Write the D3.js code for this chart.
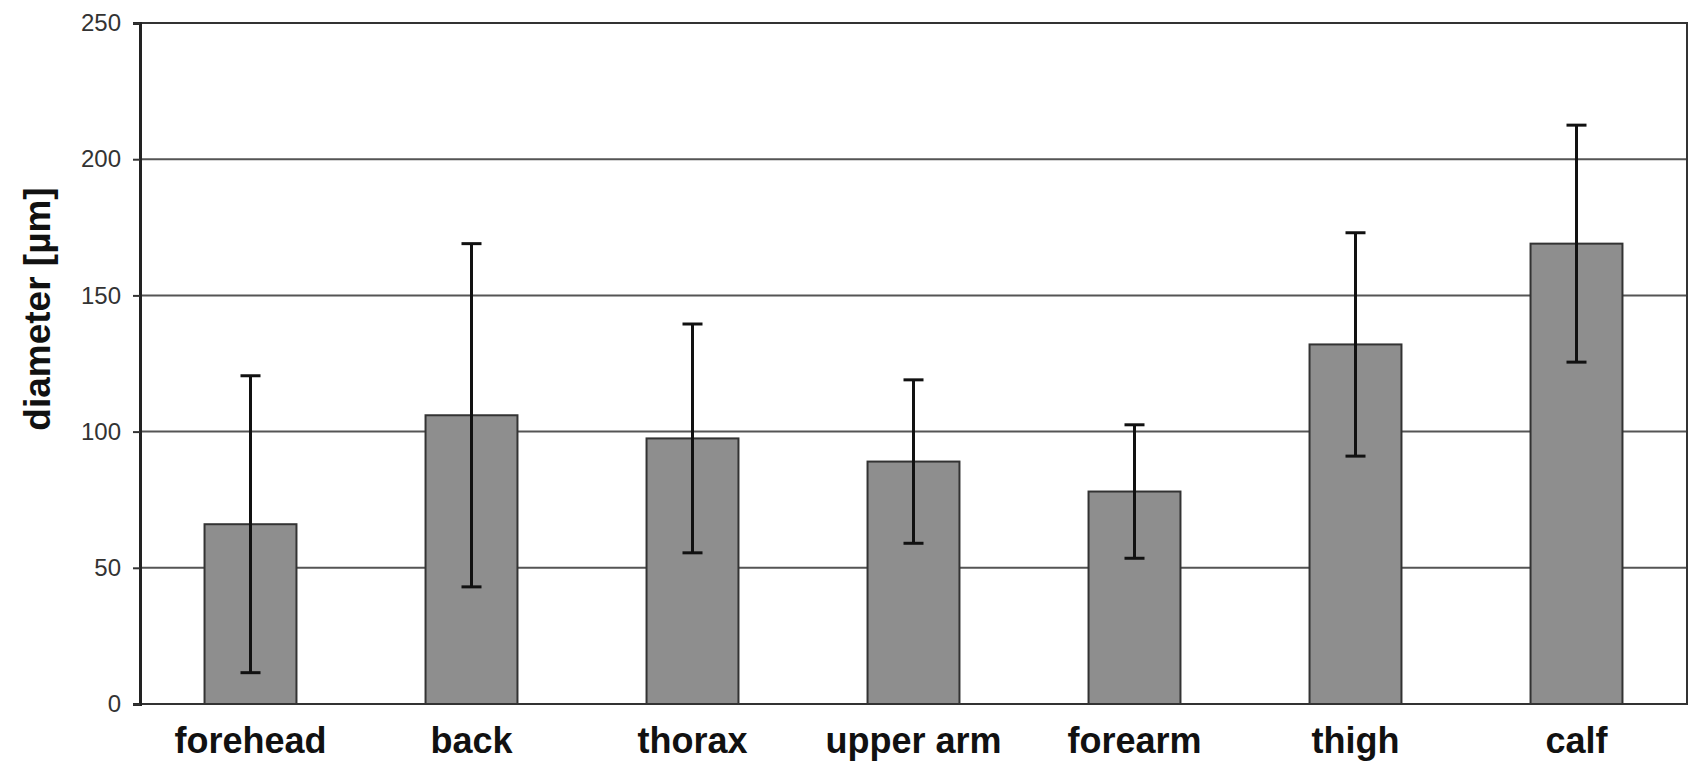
<!DOCTYPE html>
<html>
<head>
<meta charset="utf-8">
<script src="https://cdn.jsdelivr.net/npm/d3@7"></script>
<style>
  html, body { margin: 0; padding: 0; background: #fff; }
  svg { display: block; }
</style>
</head>
<body>
<svg id="chart" width="1692" height="767"></svg>
<script>
const categories = ["forehead", "back", "thorax", "upper arm", "forearm", "thigh", "calf"];
const means = [66, 106, 97.5, 89, 78, 132, 169];
const sds = [54.5, 63, 42, 30, 24.5, 41, 43.5];
const yTicks = [0, 50, 100, 150, 200, 250];
const yLabel = "diameter [µm]";

const svg = d3.select("#chart");
const margin = { left: 140, right: 5, top: 23, bottom: 63 };
const W = 1692, H = 767;
const innerW = W - margin.left - margin.right;
const innerH = H - margin.top - margin.bottom;

const g = svg.append("g").attr("transform", `translate(${margin.left},${margin.top})`);

const x = d3.scaleBand().domain(categories).range([0, innerW]).paddingInner(0.584).paddingOuter(0.292);
const y = d3.scaleLinear().domain([0, 250]).range([innerH, 0]);

// gridlines
g.append("g").selectAll("line").data(yTicks.filter(t => t > 0 && t < 250)).join("line")
  .attr("x1", 0).attr("x2", innerW)
  .attr("y1", d => y(d)).attr("y2", d => y(d))
  .attr("stroke", "#555").attr("stroke-width", 2);

// bars
g.append("g").selectAll("rect").data(categories).join("rect")
  .attr("x", d => x(d))
  .attr("width", x.bandwidth())
  .attr("y", (d, i) => y(means[i]))
  .attr("height", (d, i) => y(0) - y(means[i]))
  .attr("fill", "#8e8e8e")
  .attr("stroke", "#333")
  .attr("stroke-width", 2);

// error bars
const eb = g.append("g").attr("stroke", "#111").attr("stroke-width", 3);
categories.forEach((c, i) => {
  const cx = x(c) + x.bandwidth() / 2;
  const top = y(means[i] + sds[i]);
  const bot = y(Math.max(0, means[i] - sds[i]));
  eb.append("line").attr("x1", cx).attr("x2", cx).attr("y1", top).attr("y2", bot);
  eb.append("line").attr("x1", cx - 10).attr("x2", cx + 10).attr("y1", top).attr("y2", top);
  eb.append("line").attr("x1", cx - 10).attr("x2", cx + 10).attr("y1", bot).attr("y2", bot);
});

// frame
g.append("rect").attr("x", 0).attr("y", 0).attr("width", innerW).attr("height", innerH)
  .attr("fill", "none").attr("stroke", "#333").attr("stroke-width", 2);

// y axis
const yAxis = d3.axisLeft(y).tickValues(yTicks).tickSize(7).tickPadding(12);
const ya = g.append("g").call(yAxis);
ya.select(".domain").attr("stroke", "#222").attr("stroke-width", 3);
ya.selectAll(".tick line").attr("stroke", "#333").attr("stroke-width", 2);
ya.selectAll(".tick text")
  .attr("font-family", "Liberation Sans, Arial, sans-serif")
  .attr("font-size", 24).attr("fill", "#333");

// x axis labels
const xa = g.append("g").attr("transform", `translate(0,${innerH})`)
  .call(d3.axisBottom(x).tickSize(0).tickPadding(23));
xa.select(".domain").remove();
xa.selectAll(".tick text")
  .attr("font-family", "Liberation Sans, Arial, sans-serif")
  .attr("font-weight", "bold")
  .attr("font-size", 36).attr("fill", "#111");

// y label
svg.append("text")
  .attr("transform", `translate(50,${309}) rotate(-90)`)
  .attr("text-anchor", "middle")
  .attr("font-family", "Liberation Sans, Arial, sans-serif")
  .attr("font-weight", "bold")
  .attr("font-size", 37)
  .attr("fill", "#111")
  .text(yLabel);
</script>
</body>
</html>
